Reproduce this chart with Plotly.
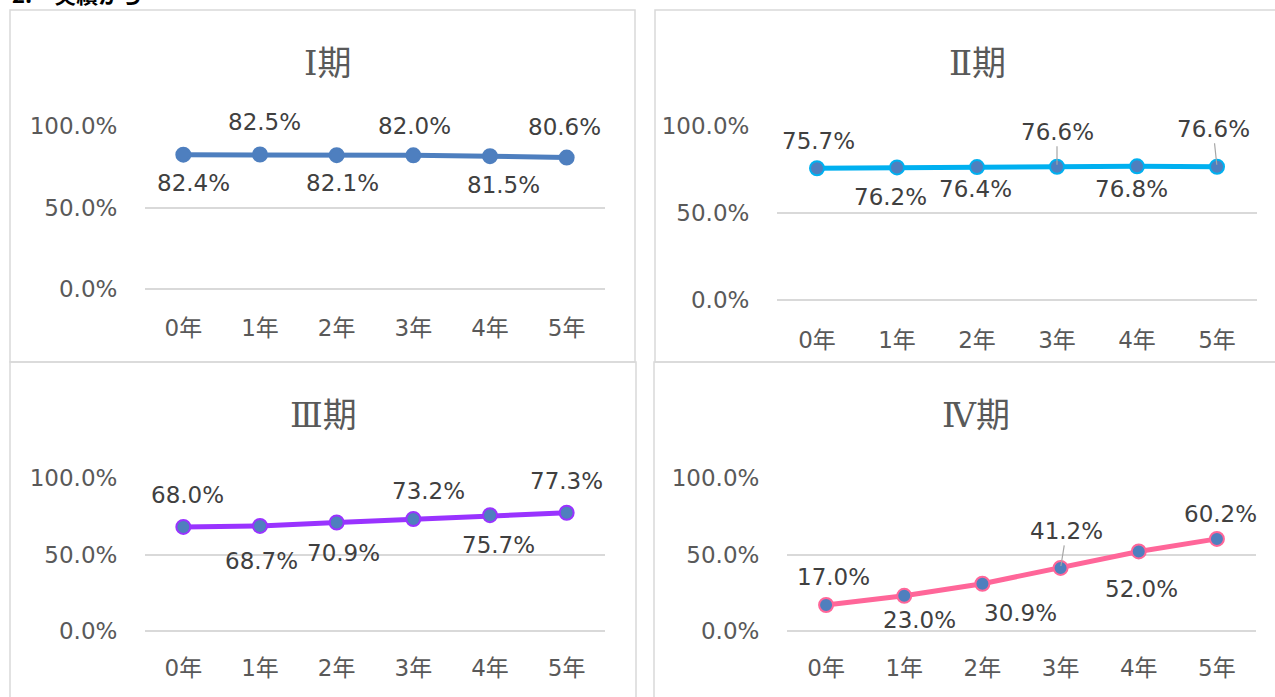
import plotly.graph_objects as go

# ---- data ----
categories = ["0年", "1年", "2年", "3年", "4年", "5年"]
period_titles = ["Ⅰ期", "Ⅱ期", "Ⅲ期", "Ⅳ期"]
values_1 = [82.4, 82.5, 82.1, 82.0, 81.5, 80.6]
values_2 = [75.7, 76.2, 76.4, 76.6, 76.8, 76.6]
values_3 = [68.0, 68.7, 70.9, 73.2, 75.7, 77.3]
values_4 = [17.0, 23.0, 30.9, 41.2, 52.0, 60.2]
y_ticks = [0, 0.5, 1.0]
page_heading = "2.　実績から"

# ---- layout / style (pixel geometry) ----
W, H = 1275, 697
# plot areas: (x_left, x_right, y_bottom, y_top) in pixels
areas = [
    (145, 605, 289, 126),
    (777, 1257, 300, 126),
    (145, 605, 631, 478),
    (787, 1256, 631, 478),
]
borders = [
    (10, 635, 10, 362),
    (655, 1300, 10, 362),
    (10, 636, 362, 720),
    (654, 1300, 362, 720),
]
title_pos = [(327, 63), (977, 63), (324, 415), (976, 415)]
line_colors = ["#4E7FBF", "#00B0F0", "#9933FF", "#FF6699"]
marker_fill = "#4F7FBE"
# label offsets (dx, dy) in pixels, dy positive = down
label_offsets = [
    [(10, 28), (4, -33), (6, 28), (1, -29), (13, 29), (-2, -31)],
    [(1, -27), (-7, 30), (-2, 22), (0, -35), (-6, 23), (-4, -38)],
    [(4, -32), (1, 35), (7, 30), (15, -28), (8, 30), (0, -32)],
    [(7, -28), (15, 24), (38, 29), (6, -37), (3, 38), (4, -25)],
]
leaders = [set(), {3, 5}, set(), {3}]
x_standoff = [18, 19, 16, 16]

series = [values_1, values_2, values_3, values_4]

FONT = "DejaVu Sans, Verdana, Noto Sans CJK JP"
TITLE_FONT = "DejaVu Serif, Noto Sans CJK JP"
TXT = 23

fig = go.Figure()
layout = dict(
    width=W, height=H,
    margin=dict(l=0, r=0, t=0, b=0, pad=0, autoexpand=False),
    paper_bgcolor="white", plot_bgcolor="white",
    showlegend=False,
    font=dict(family=FONT, size=TXT, color="#595959"),
)
annotations = []
shapes = []

for k in range(4):
    xl, xr, yb, yt = areas[k]
    sfx = "" if k == 0 else str(k + 1)
    xa = "x" + sfx
    ya = "y" + sfx
    vals = [v / 100 for v in series[k]]
    fig.add_trace(go.Scatter(
        x=categories, y=vals, xaxis=xa, yaxis=ya,
        mode="lines+markers",
        line=dict(color=line_colors[k], width=5),
        marker=dict(size=14, color=marker_fill if k > 0 else line_colors[0],
                    line=dict(color=line_colors[k], width=2)),
        cliponaxis=False, hoverinfo="skip",
    ))
    layout["xaxis" + sfx] = dict(
        domain=[xl / W, xr / W], anchor=ya, type="category",
        categoryorder="array", categoryarray=categories,
        range=[-0.5, len(categories) - 0.5],
        showgrid=False, showline=False, zeroline=False, automargin=False,
        ticks="outside", ticklen=0, ticklabelstandoff=x_standoff[k],
        tickfont=dict(family=FONT, size=TXT, color="#595959"),
    )
    layout["yaxis" + sfx] = dict(
        domain=[1 - yb / H, 1 - yt / H], anchor=xa,
        range=[0, 1], tickvals=y_ticks, tickformat=".1%",
        showgrid=True, gridcolor="#D9D9D9", gridwidth=1.5,
        zeroline=True, zerolinecolor="#D9D9D9", zerolinewidth=1.5,
        showline=False, automargin=False,
        ticks="outside", ticklen=0, ticklabelstandoff=22,
        tickfont=dict(family=FONT, size=TXT, color="#595959"),
    )
    # data labels
    for i, v in enumerate(vals):
        dx, dy = label_offsets[k][i]
        txt = f"{series[k][i]:.1f}%"
        if i in leaders[k]:
            annotations.append(dict(
                x=categories[i], y=v, xref=xa, yref=ya, text=txt,
                showarrow=True, arrowhead=0, arrowwidth=1.2,
                arrowcolor="#A6A6A6", ax=dx, ay=dy, standoff=2,
                font=dict(family=FONT, size=TXT, color="#404040"),
            ))
        else:
            annotations.append(dict(
                x=categories[i], y=v, xref=xa, yref=ya, text=txt,
                showarrow=False, xshift=dx, yshift=-dy,
                font=dict(family=FONT, size=TXT, color="#404040"),
            ))
    # title
    tx, ty = title_pos[k]
    annotations.append(dict(
        x=tx / W, y=1 - ty / H, xref="paper", yref="paper",
        text=period_titles[k], showarrow=False,
        xanchor="center", yanchor="middle",
        font=dict(family=TITLE_FONT, size=34, color="#595959"),
    ))
    bx0, bx1, by0, by1 = borders[k]
    shapes.append(dict(
        type="rect", xref="paper", yref="paper",
        x0=bx0 / W, x1=bx1 / W, y0=1 - by1 / H, y1=1 - by0 / H,
        line=dict(color="#D9D9D9", width=1.5), fillcolor="rgba(0,0,0,0)",
        layer="below",
    ))

annotations.append(dict(
    x=10 / W, y=1, xref="paper", yref="paper", text="<b>" + page_heading + "</b>",
    showarrow=False, xanchor="left", yanchor="bottom", yshift=-11,
    font=dict(family="Noto Sans CJK JP", size=22, color="#000000"),
))

layout["annotations"] = annotations
layout["shapes"] = shapes
fig.update_layout(**layout)
fig.write_html(
    "out.html",
    config={"displayModeBar": False},
    post_script="document.body.style.margin='0';document.body.style.overflow='hidden';",
)
